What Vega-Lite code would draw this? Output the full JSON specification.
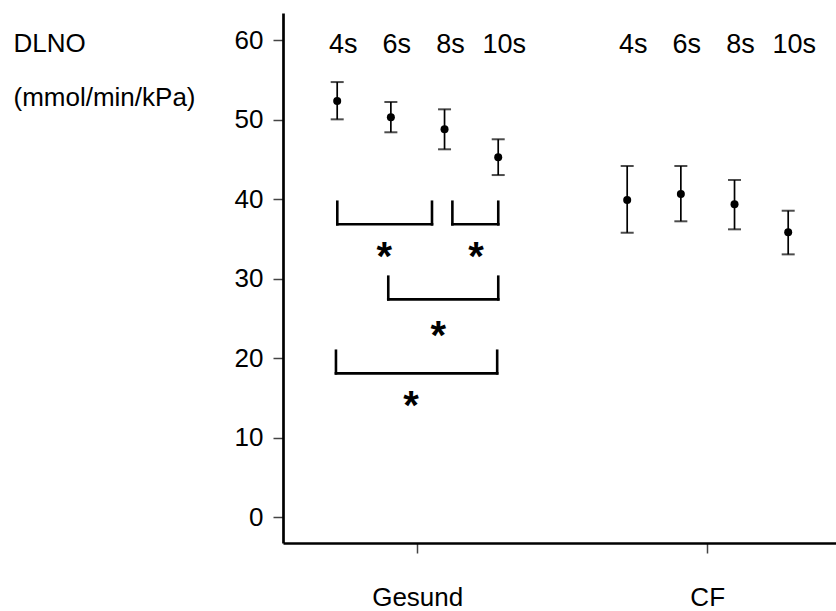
{
  "$schema": "https://vega.github.io/schema/vega-lite/v6.json",
  "width": 553,
  "height": 530,
  "autosize": {"type": "none"},
  "padding": {"left": 283, "top": 13, "right": 0, "bottom": 68},
  "background": "white",
  "config": {
    "view": {"stroke": null},
    "font": "Liberation Sans",
    "axisY": {
      "labelFontSize": 26, "labelColor": "black", "labelPadding": 10,
      "tickSize": 10, "tickColor": "#444", "tickWidth": 1.5,
      "domainColor": "black", "domainWidth": 2.7, "grid": false
    },
    "axisX": {
      "labelAngle": 0, "labelFontSize": 26, "labelColor": "black",
      "labelPadding": 31, "tickSize": 10, "tickColor": "#444", "tickWidth": 1.5,
      "domainColor": "black", "domainWidth": 2.7, "grid": false
    }
  },
  "datasets": {
    "means": [
      {"group": "Gesund", "time": "4s", "mean": 52.38, "lo": 50.08, "hi": 54.77},
      {"group": "Gesund", "time": "6s", "mean": 50.33, "lo": 48.45, "hi": 52.26},
      {"group": "Gesund", "time": "8s", "mean": 48.82, "lo": 46.31, "hi": 51.34},
      {"group": "Gesund", "time": "10s", "mean": 45.30, "lo": 43.07, "hi": 47.57},
      {"group": "CF", "time": "4s", "mean": 39.93, "lo": 35.81, "hi": 44.21},
      {"group": "CF", "time": "6s", "mean": 40.68, "lo": 37.25, "hi": 44.21},
      {"group": "CF", "time": "8s", "mean": 39.39, "lo": 36.24, "hi": 42.45},
      {"group": "CF", "time": "10s", "mean": 35.86, "lo": 33.09, "hi": 38.58}
    ],
    "brackets": [
      {"from": 4.0, "to": 7.53, "top": 39.71, "bottom": 36.87, "star_x": 5.75, "star_y": 33.85, "label": "*"},
      {"from": 8.29, "to": 10.0, "top": 39.71, "bottom": 36.87, "star_x": 9.17, "star_y": 33.89, "label": "*"},
      {"from": 5.9, "to": 10.0, "top": 30.28, "bottom": 27.43, "star_x": 7.76, "star_y": 23.98, "label": "*"},
      {"from": 3.95, "to": 9.96, "top": 20.96, "bottom": 18.12, "star_x": 6.75, "star_y": 15.18, "label": "*"}
    ]
  },
  "layer": [
    {
      "data": {"name": "means"},
      "layer": [
        {
          "mark": {"type": "rule", "color": "black", "strokeWidth": 1.7},
          "encoding": {
            "x": {
              "field": "group", "type": "nominal",
              "scale": {"domain": ["Gesund", "CF"], "paddingInner": 0.2, "paddingOuter": 0.0535, "align": 0.603},
              "axis": {"title": null}
            },
            "xOffset": {
              "field": "time", "type": "nominal",
              "scale": {"domain": ["4s", "6s", "8s", "10s"], "paddingInner": 0, "paddingOuter": 0.1612}
            },
            "y": {
              "field": "lo", "type": "quantitative",
              "scale": {"domain": [-3.23, 63.46], "nice": false, "zero": false},
              "axis": {
                "values": [0, 10, 20, 30, 40, 50, 60],
                "title": ["DLNO", "(mmol/min/kPa)"],
                "titleAngle": 0, "titleAlign": "left", "titleBaseline": "alphabetic",
                "titleX": -270, "titleY": 38.7, "titleFontSize": 26, "titleFontWeight": "normal",
                "titleLineHeight": 54, "titleColor": "black"
              }
            },
            "y2": {"field": "hi"}
          }
        },
        {
          "mark": {"type": "tick", "color": "black", "size": 13, "thickness": 2},
          "encoding": {
            "x": {"field": "group", "type": "nominal"},
            "xOffset": {"field": "time", "type": "nominal"},
            "y": {"field": "hi", "type": "quantitative"}
          }
        },
        {
          "mark": {"type": "tick", "color": "black", "size": 13, "thickness": 2},
          "encoding": {
            "x": {"field": "group", "type": "nominal"},
            "xOffset": {"field": "time", "type": "nominal"},
            "y": {"field": "lo", "type": "quantitative"}
          }
        },
        {
          "mark": {"type": "point", "filled": true, "color": "black", "size": 64, "opacity": 1},
          "encoding": {
            "x": {"field": "group", "type": "nominal"},
            "xOffset": {"field": "time", "type": "nominal"},
            "y": {"field": "mean", "type": "quantitative"}
          }
        },
        {
          "mark": {"type": "text", "fontSize": 27, "dx": 6, "baseline": "alphabetic", "align": "center", "color": "black"},
          "encoding": {
            "x": {"field": "group", "type": "nominal"},
            "xOffset": {"field": "time", "type": "nominal"},
            "y": {"datum": 58.39, "type": "quantitative"},
            "text": {"field": "time"}
          }
        }
      ]
    },
    {
      "data": {"name": "brackets"},
      "layer": [
        {
          "mark": {"type": "rule", "color": "black", "strokeWidth": 2.6, "strokeCap": "square"},
          "encoding": {
            "x": {"field": "from", "type": "quantitative", "scale": {"domain": [1.976, 22.59], "nice": false, "zero": false}, "axis": null},
            "x2": {"field": "to"},
            "y": {"field": "bottom", "type": "quantitative"}
          }
        },
        {
          "mark": {"type": "rule", "color": "black", "strokeWidth": 2.6, "strokeCap": "square"},
          "encoding": {
            "x": {"field": "from", "type": "quantitative", "axis": null},
            "y": {"field": "top", "type": "quantitative"},
            "y2": {"field": "bottom"}
          }
        },
        {
          "mark": {"type": "rule", "color": "black", "strokeWidth": 2.6, "strokeCap": "square"},
          "encoding": {
            "x": {"field": "to", "type": "quantitative", "axis": null},
            "y": {"field": "top", "type": "quantitative"},
            "y2": {"field": "bottom"}
          }
        },
        {
          "mark": {"type": "text", "fontSize": 40, "fontWeight": "bold", "baseline": "middle", "align": "center", "dy": 10, "color": "black"},
          "encoding": {
            "x": {"field": "star_x", "type": "quantitative", "axis": null},
            "y": {"field": "star_y", "type": "quantitative"},
            "text": {"field": "label"}
          }
        }
      ]
    }
  ],
  "resolve": {"scale": {"x": "independent"}}
}
